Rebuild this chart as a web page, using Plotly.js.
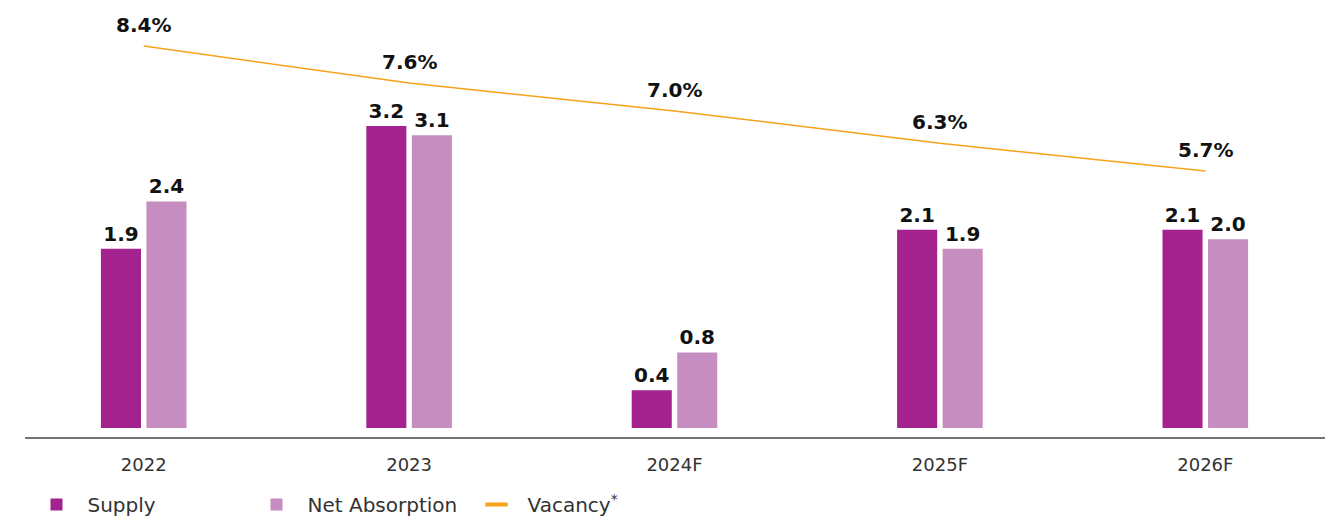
<!DOCTYPE html>
<html><head><meta charset="utf-8">
<script src="https://cdn.plot.ly/plotly-3.0.1.min.js"></script>
<style>html,body{margin:0;padding:0;background:#fff;}#chart{width:1342px;height:518px;}</style>
</head><body><div id="chart"></div>
<script>
const years = ["2022", "2023", "2024F", "2025F", "2026F"];
const supply = [1.9, 3.2, 0.4, 2.1, 2.1];
const netAbsorption = [2.4, 3.1, 0.8, 1.9, 2.0];
const vacancy = [8.4, 7.6, 7.0, 6.3, 5.7];

const labelFont = {family: "DejaVu Sans, sans-serif", size: 20, color: "#111", weight: 700};

const traces = [
  {type: "bar", name: "Supply", x: years, y: supply,
   marker: {color: "#A3228D"}, text: supply.map(v => v.toFixed(1)),
   textposition: "outside", textfont: labelFont, cliponaxis: false, hoverinfo: "skip"},
  {type: "bar", name: "Net Absorption", x: years, y: netAbsorption,
   marker: {color: "#C68DC0"}, text: netAbsorption.map(v => v.toFixed(1)),
   textposition: "outside", textfont: labelFont, cliponaxis: false, hoverinfo: "skip"},
  {type: "scatter", mode: "lines", name: "Vacancy", x: years, y: vacancy, yaxis: "y2",
   line: {color: "#F7A21B", width: 1.5}, hoverinfo: "skip", showlegend: false},
  // legend proxy for the vacancy line (short thick dash, as in the reference legend)
  {type: "scatter", mode: "markers", name: "Vacancy<sup>*</sup>", x: [null], y: [null], yaxis: "y2",
   marker: {symbol: "line-ew", size: 18, color: "#F7A21B", line: {color: "#F7A21B", width: 4}},
   hoverinfo: "skip"}
];

// category index used as annotation x (numeric-looking labels like "2022" would be read as indices)
const annotations = vacancy.map((v, i) => ({
  x: i, y: v, yref: "y2", xref: "x", text: v.toFixed(1) + "%",
  showarrow: false, yshift: 21, font: labelFont
}));

const layout = {
  width: 1342, height: 518,
  margin: {l: 11, r: 4, t: 0, b: 80},
  paper_bgcolor: "#fff", plot_bgcolor: "#fff",
  barmode: "group", bargap: 0.657, bargroupgap: 0.12,
  showlegend: true,
  legend: {orientation: "h", xref: "container", yref: "container",
    x: 0.019, xanchor: "left", y: 0.026, yanchor: "middle",
    font: {family: "DejaVu Sans, sans-serif", size: 20, color: "#333"},
    itemwidth: 52, entrywidth: 153, entrywidthmode: "pixels", traceorder: "normal"},
  xaxis: {type: "category", range: [-0.5, 4.5], showgrid: false, zeroline: false, showline: false,
    ticks: "", tickfont: {family: "DejaVu Sans, sans-serif", size: 18, color: "#333"},
    ticklabelstandoff: 14, fixedrange: true},
  yaxis: {range: [-0.106, 4.534], visible: false, showgrid: false, zeroline: false, fixedrange: true},
  yaxis2: {range: [-0.065, 9.395], overlaying: "y", side: "right", visible: false, showgrid: false, zeroline: false},
  shapes: [{type: "line", xref: "paper", yref: "paper", x0: 0.0106, x1: 0.9902, y0: 0, y1: 0,
    line: {color: "#444", width: 1.5}}],
  annotations: annotations
};

Plotly.newPlot("chart", traces, layout, {displayModeBar: false, staticPlot: true});
</script></body></html>
